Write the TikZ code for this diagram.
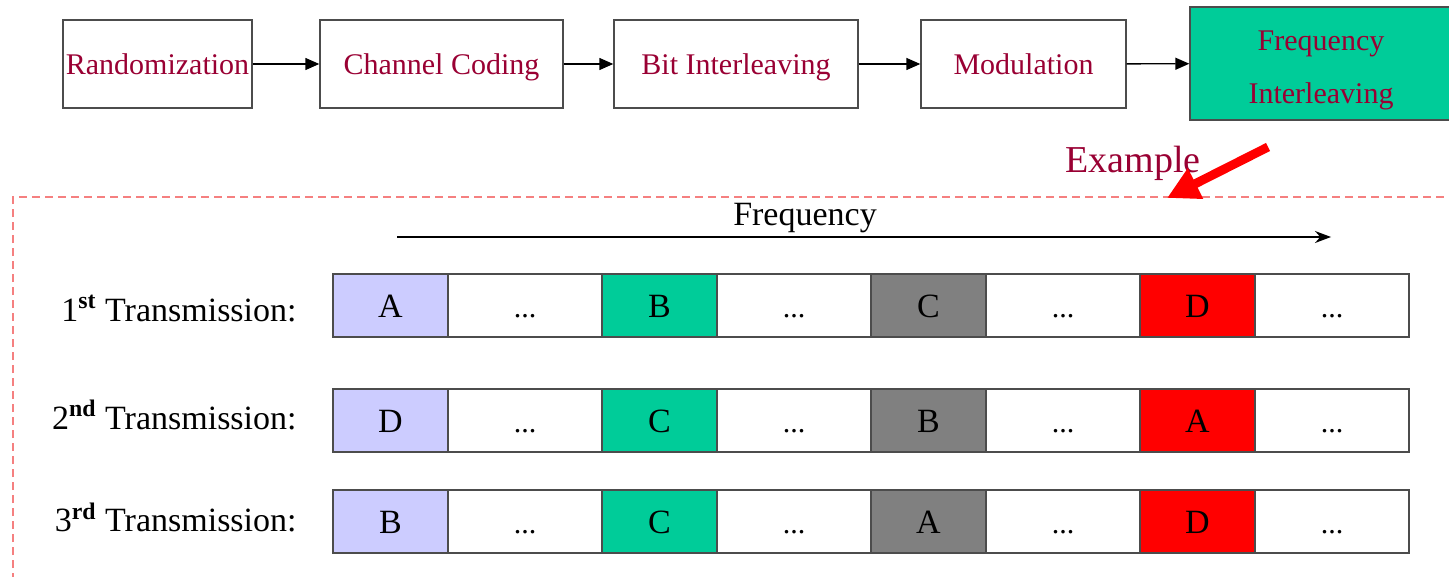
\documentclass[tikz,border=0pt]{standalone}
\usepackage{fontspec}
\setmainfont{Liberation Serif}
\usetikzlibrary{positioning,arrows.meta}
\definecolor{crimson}{HTML}{990033}
\definecolor{seagreen}{HTML}{00CC99}
\definecolor{lavender}{HTML}{CCCCFF}
\definecolor{pinkline}{HTML}{F58080}
\tikzset{
  stage/.style={draw=black!70, line width=0.7pt, minimum height=44pt, inner sep=0pt, text height=12pt, text depth=1.1pt, text=crimson, font=\fontsize{15}{18}\selectfont},
  cell/.style={draw=black!70, line width=0.7pt, minimum height=31.5pt, inner sep=0pt, outer sep=0pt, text height=13pt, text depth=0.8pt, font=\fontsize{17}{20}\selectfont},
  tone/.style={cell, minimum width=57.5pt},
  gap/.style={cell, minimum width=77pt, font=\fontsize{15}{18}\selectfont},
  rowlabel/.style={anchor=east, inner sep=0pt, text height=13pt, text depth=0.8pt, font=\fontsize{17}{20}\selectfont},
  flow/.style={-{Triangle[length=7pt,width=6pt]}, line width=0.7pt}
}
\newcommand{\sth}[1]{\textbf{\textsuperscript{#1}}}
\begin{document}
\begin{tikzpicture}[x=0.5pt,y=-0.5pt]
      \useasboundingbox (0,0) rectangle (1449,577);
      \draw[pinkline, line width=0.8pt, dash pattern=on 4pt off 2.5pt] (13,620) -- (13,197) -- (1500,197);
      \node[stage, minimum width=94.5pt] (rand) at (157.5,64){Randomization};
      \node[stage, minimum width=121.5pt] (chan) at (441.5,64){Channel Coding};
      \node[stage, minimum width=122pt] (bint) at (736,64){Bit Interleaving};
      \node[stage, minimum width=102.5pt] (modu) at (1023.5,64){Modulation};
      \node[stage, fill=seagreen, minimum width=131pt, minimum height=56.5pt, text height=, text depth=, align=center, font=\fontsize{15}{26.5}\selectfont] (fint) at (1321,63.5){\rule{0pt}{17pt}Frequency\\Interleaving};
      \draw[flow] (rand) -- (chan);
      \draw[flow] (chan) -- (bint);
      \draw[flow] (bint) -- (modu);
      \draw[flow] (modu) -- (fint);
      \node[text=crimson, text height=13pt, text depth=0pt, font=\fontsize{19}{22}\selectfont] (example) at (1133,160){Example};
      \coordinate (redtail) at (1268,147);
      \coordinate (redtip) at (1167,198);
      \draw[red, line width=4.5pt, -{Triangle[length=16pt,width=16pt]}] (redtail) -- (redtip);
      \node[text height=11.2pt, text depth=0pt, font=\fontsize{17}{20}\selectfont] (freq) at (805,214){Frequency};
      \coordinate (fstart) at (397,237);
      \coordinate (fend) at (1331,237);
      \draw[line width=0.7pt, -{Stealth[length=8pt,width=6pt]}] (fstart) -- (fend);
      \node[rowlabel] (lab1) at (297,309){1\sth{st} Transmission:};
      \node[tone, fill=lavender] (r1a) at (390.5,305.5){A};
      \node[gap, right=0pt of r1a] (r1b){...};
      \node[tone, fill=seagreen, right=0pt of r1b] (r1c){B};
      \node[gap, right=0pt of r1c] (r1d){...};
      \node[tone, fill=gray, right=0pt of r1d] (r1e){C};
      \node[gap, right=0pt of r1e] (r1f){...};
      \node[tone, fill=red, right=0pt of r1f] (r1g){D};
      \node[gap, right=0pt of r1g] (r1h){...};
      \node[rowlabel] (lab2) at (297,417){2\sth{nd} Transmission:};
      \node[tone, fill=lavender] (r2a) at (390.5,420.5){D};
      \node[gap, right=0pt of r2a] (r2b){...};
      \node[tone, fill=seagreen, right=0pt of r2b] (r2c){C};
      \node[gap, right=0pt of r2c] (r2d){...};
      \node[tone, fill=gray, right=0pt of r2d] (r2e){B};
      \node[gap, right=0pt of r2e] (r2f){...};
      \node[tone, fill=red, right=0pt of r2f] (r2g){A};
      \node[gap, right=0pt of r2g] (r2h){...};
      \node[rowlabel] (lab3) at (297,519.5){3\sth{rd} Transmission:};
      \node[tone, fill=lavender] (r3a) at (390.5,521.5){B};
      \node[gap, right=0pt of r3a] (r3b){...};
      \node[tone, fill=seagreen, right=0pt of r3b] (r3c){C};
      \node[gap, right=0pt of r3c] (r3d){...};
      \node[tone, fill=gray, right=0pt of r3d] (r3e){A};
      \node[gap, right=0pt of r3e] (r3f){...};
      \node[tone, fill=red, right=0pt of r3f] (r3g){D};
      \node[gap, right=0pt of r3g] (r3h){...};
    \end{tikzpicture}
\end{document}
